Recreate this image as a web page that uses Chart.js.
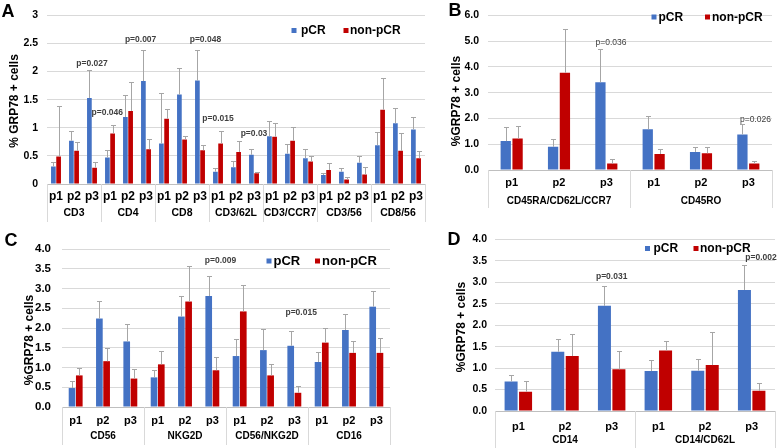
<!DOCTYPE html>
<html lang="en">
<head>
<meta charset="UTF-8">
<title>GRP78 + cells by group</title>
<script src="https://cdn.jsdelivr.net/npm/chart.js"></script>
<style>
  body { margin: 0; background: #fff; }
  #wrap { position: relative; width: 778px; height: 448px; overflow: hidden; }
  .panel { position: absolute; }
</style>
</head>
<body>
<div id="wrap">
  <div class="panel" style="left:0;top:0"><canvas id="chartA" width="430" height="225"></canvas></div>
  <div class="panel" style="left:430px;top:0"><canvas id="chartB" width="348" height="225"></canvas></div>
  <div class="panel" style="left:0;top:225px"><canvas id="chartC" width="400" height="223"></canvas></div>
  <div class="panel" style="left:430px;top:225px"><canvas id="chartD" width="348" height="223"></canvas></div>
</div>
<script>
  // time points inside each marker group
  const points = ['p1', 'p2', 'p3'];

  // Panel A
  const groupsA = ['CD3', 'CD4', 'CD8', 'CD3/62L', 'CD3/CCR7', 'CD3/56', 'CD8/56'];
  const pcrA = [0.31, 0.77, 1.53, 0.47, 1.19, 1.83, 0.72, 1.59, 1.84, 0.22, 0.30, 0.52, 0.85, 0.54, 0.46, 0.16, 0.22, 0.38, 0.69, 1.08, 0.97];
  const pcrSdA = [0.09, 0.17, 0.49, 0.13, 0.40, 0.56, 0.90, 0.47, 0.55, 0.06, 0.11, 0.11, 0.27, 0.18, 0.16, 0.04, 0.07, 0.12, 0.24, 0.27, 0.22];
  const nonA = [0.49, 0.59, 0.29, 0.90, 1.30, 0.62, 1.16, 0.79, 0.60, 0.72, 0.57, 0.19, 0.84, 0.77, 0.40, 0.25, 0.08, 0.17, 1.32, 0.59, 0.46];
  const nonSdA = [0.90, 0.15, 0.11, 0.15, 0.51, 0.18, 0.17, 0.06, 0.10, 0.23, 0.20, 0.03, 0.24, 0.24, 0.09, 0.13, 0.04, 0.14, 0.56, 0.31, 0.12];
  const pTextA = ['p=0.027', 'p=0.046', 'p=0.007', 'p=0.048', 'p=0.015', 'p=0.03'];
  const pAtA = [2, 2.85, 4.7, 8.3, 9, 11];
  const pValA = [2.14, 1.27, 2.57, 2.57, 1.17, 0.9];

  // Panel B
  const groupsB = ['CD45RA/CD62L/CCR7', 'CD45RO'];
  const pcrB = [1.12, 0.90, 3.40, 1.58, 0.70, 1.38];
  const pcrSdB = [0.53, 0.29, 1.30, 0.52, 0.20, 0.39];
  const nonB = [1.22, 3.77, 0.25, 0.62, 0.65, 0.25];
  const nonSdB = [0.48, 1.68, 0.17, 0.20, 0.23, 0.10];
  const pTextB = ['p=0.036', 'p=0.026'];
  const pAtB = [2.1, 5.15];
  const pValB = [4.95, 1.94];

  // Panel C
  const groupsC = ['CD56', 'NKG2D', 'CD56/NKG2D', 'CD16'];
  const pcrC = [0.48, 2.24, 1.66, 0.75, 2.29, 2.81, 1.29, 1.44, 1.55, 1.14, 1.95, 2.54];
  const pcrSdC = [0.17, 0.44, 0.45, 0.19, 0.52, 0.50, 0.42, 0.53, 0.37, 0.26, 0.40, 0.40];
  const nonC = [0.80, 1.16, 0.72, 1.08, 2.67, 0.93, 2.42, 0.80, 0.36, 1.63, 1.37, 1.37];
  const nonSdC = [0.20, 0.33, 0.25, 0.33, 0.90, 0.34, 0.66, 0.28, 0.17, 0.38, 0.31, 0.38];
  const pTextC = ['p=0.009', 'p=0.015'];
  const pAtC = [5.3, 8.25];
  const pValC = [3.71, 2.40];

  // Panel D
  const groupsD = ['CD14', 'CD14/CD62L'];
  const pcrD = [0.69, 1.38, 2.45, 0.93, 0.94, 2.82];
  const pcrSdD = [0.16, 0.29, 0.47, 0.25, 0.27, 0.57];
  const nonD = [0.45, 1.28, 0.97, 1.41, 1.07, 0.47];
  const nonSdD = [0.24, 0.51, 0.42, 0.21, 0.76, 0.19];
  const pTextD = ['p=0.031', 'p=0.002'];
  const pAtD = [2, 5.2];
  const pValD = [3.13, 3.58];

  const FONT = '"Liberation Sans", Arial, sans-serif';
  const BLUE = '#4472C4';
  const RED = '#C00000';
  Chart.defaults.font.family = FONT;

  function makePanel(id, cfg) {
    const labels = cfg.groups.flatMap(() => points);

    const decor = {
      id: 'decor',
      afterDatasetsDraw(chart) {
        // upper error bars
        const ctx = chart.ctx;
        const y = chart.scales.y;
        ctx.save();
        ctx.strokeStyle = '#a6a6a6';
        ctx.lineWidth = 1;
        chart.data.datasets.forEach((ds, d) => {
          chart.getDatasetMeta(d).data.forEach((bar, i) => {
            const top = Math.round(y.getPixelForValue(ds.data[i] + ds.sd[i])) + 0.5;
            const x = Math.round(bar.x) + 0.5;
            ctx.beginPath();
            ctx.moveTo(x, bar.y);
            ctx.lineTo(x, top);
            ctx.moveTo(x - 2.5, top);
            ctx.lineTo(x + 2.5, top);
            ctx.stroke();
          });
        });
        ctx.restore();
      },
      afterDraw(chart) {
        const ctx = chart.ctx;
        const x = chart.scales.x;
        const y = chart.scales.y;
        const bottom = chart.chartArea.bottom;
        ctx.save();

        // group separators and group names
        ctx.strokeStyle = '#d9d9d9';
        ctx.lineWidth = 1;
        for (let g = 0; g <= cfg.groups.length; g++) {
          const px = Math.round(x.getPixelForValue(g * points.length - 0.5)) + 0.5;
          ctx.beginPath();
          ctx.moveTo(px, bottom);
          ctx.lineTo(px, bottom + 38);
          ctx.stroke();
        }
        ctx.fillStyle = '#000';
        ctx.font = 'bold ' + cfg.groupFont + 'px ' + FONT;
        ctx.textAlign = 'center';
        ctx.textBaseline = 'middle';
        cfg.groups.forEach((name, g) => {
          ctx.fillText(name, x.getPixelForValue(g * points.length + 1), bottom + cfg.groupDy);
        });

        // y axis title
        ctx.save();
        ctx.translate(cfg.titleX, cfg.titleY);
        ctx.rotate(-Math.PI / 2);
        ctx.font = 'bold 12px ' + FONT;
        ctx.fillText(cfg.yTitle, 0, 0);
        ctx.restore();

        // panel letter
        ctx.font = 'bold 18px ' + FONT;
        ctx.fillText(cfg.letter, cfg.letterX, cfg.letterY);

        // legend
        ctx.font = 'bold ' + cfg.legendFont + 'px ' + FONT;
        ctx.textAlign = 'left';
        chart.data.datasets.forEach((ds, d) => {
          const [bx, tx] = cfg.legendAt[d];
          ctx.fillStyle = ds.backgroundColor;
          ctx.fillRect(bx, cfg.legendY - 2.5, 5, 5);
          ctx.fillStyle = '#000';
          ctx.fillText(ds.label, tx, cfg.legendY + 0.5);
        });

        // p values
        ctx.fillStyle = '#404040';
        ctx.font = cfg.pWeight + ' 8.5px ' + FONT;
        ctx.textAlign = 'center';
        cfg.pText.forEach((t, k) => {
          ctx.fillText(t, x.getPixelForValue(cfg.pAt[k]), y.getPixelForValue(cfg.pVal[k]));
        });
        ctx.restore();
      }
    };

    return new Chart(document.getElementById(id), {
      type: 'bar',
      data: {
        labels: labels,
        datasets: [
          { label: 'pCR', data: cfg.pcr, sd: cfg.pcrSd, backgroundColor: BLUE, borderWidth: 0,
            categoryPercentage: cfg.catPct, barPercentage: cfg.barPct },
          { label: 'non-pCR', data: cfg.non, sd: cfg.nonSd, backgroundColor: RED, borderWidth: 0,
            categoryPercentage: cfg.catPct, barPercentage: cfg.barPct }
        ]
      },
      options: {
        responsive: false,
        animation: false,
        layout: { padding: cfg.padding },
        plugins: { legend: { display: false }, tooltip: { enabled: false } },
        scales: {
          x: {
            offset: true,
            grid: { display: false, drawTicks: false },
            border: { display: true, color: '#bfbfbf', width: 1 },
            ticks: { color: '#000', font: { size: cfg.xFont, weight: 'bold' }, padding: cfg.xPad,
                     maxRotation: 0, autoSkip: false },
            afterFit: s => { s.height = cfg.xHeight; }
          },
          y: {
            min: 0,
            max: cfg.yMax,
            grid: { color: '#d9d9d9', drawTicks: false },
            border: { display: false },
            ticks: {
              stepSize: cfg.step,
              padding: cfg.yPad,
              color: '#000',
              font: { size: cfg.yFont, weight: 'bold' },
              callback: v => cfg.decimals ? v.toFixed(cfg.decimals) : String(v)
            },
            afterFit: s => { s.width = cfg.yWidth; }
          }
        }
      },
      plugins: [decor]
    });
  }

  makePanel('chartA', {
    groups: groupsA, pcr: pcrA, pcrSd: pcrSdA, non: nonA, nonSd: nonSdA,
    pText: pTextA, pAt: pAtA, pVal: pValA, pWeight: 'bold',
    yMax: 3, step: 0.5, decimals: 0, yFont: 10.5, yPad: 9, yWidth: 47,
    xFont: 12, xPad: 5, xHeight: 41, groupFont: 10.5, groupDy: 29,
    padding: { left: 0, right: 5, top: 14, bottom: 0 },
    catPct: 0.58, barPct: 0.9,
    yTitle: '% GRP78 + cells', titleX: 15, titleY: 101,
    letter: 'A', letterX: 8, letterY: 12,
    legendFont: 12, legendY: 30.5, legendAt: [[291.5, 301], [343.5, 350]]
  });

  makePanel('chartB', {
    groups: groupsB, pcr: pcrB, pcrSd: pcrSdB, non: nonB, nonSd: nonSdB,
    pText: pTextB, pAt: pAtB, pVal: pValB, pWeight: 'normal',
    yMax: 6, step: 1, decimals: 1, yFont: 10.5, yPad: 9, yWidth: 58,
    xFont: 11, xPad: 6, xHeight: 55, groupFont: 10, groupDy: 31,
    padding: { left: 0, right: 6, top: 5, bottom: 0 },
    catPct: 0.5, barPct: 0.87,
    yTitle: '%GRP78 + cells', titleX: 27, titleY: 101,
    letter: 'B', letterX: 25, letterY: 11,
    legendFont: 12, legendY: 17, legendAt: [[221.5, 228.5], [275, 282]]
  });

  makePanel('chartC', {
    groups: groupsC, pcr: pcrC, pcrSd: pcrSdC, non: nonC, nonSd: nonSdC,
    pText: pTextC, pAt: pAtC, pVal: pValC, pWeight: 'bold',
    yMax: 4, step: 0.5, decimals: 1, yFont: 11.5, yPad: 11, yWidth: 62,
    xFont: 11, xPad: 7, xHeight: 41, groupFont: 10, groupDy: 29,
    padding: { left: 0, right: 10, top: 24, bottom: 0 },
    catPct: 0.53, barPct: 0.92,
    yTitle: '%GRP78 + cells', titleX: 30, titleY: 115,
    letter: 'C', letterX: 11, letterY: 16,
    legendFont: 13, legendY: 36, legendAt: [[266.5, 273.5], [315, 322]]
  });

  makePanel('chartD', {
    groups: groupsD, pcr: pcrD, pcrSd: pcrSdD, non: nonD, nonSd: nonSdD,
    pText: pTextD, pAt: pAtD, pVal: pValD, pWeight: 'bold',
    yMax: 4, step: 0.5, decimals: 1, yFont: 10.5, yPad: 8, yWidth: 65,
    xFont: 11, xPad: 9, xHeight: 37, groupFont: 10, groupDy: 29,
    padding: { left: 0, right: 3, top: 14, bottom: 0 },
    catPct: 0.62, barPct: 0.9,
    yTitle: '%GRP78 + cells', titleX: 32, titleY: 102,
    letter: 'D', letterX: 24, letterY: 15,
    legendFont: 12, legendY: 23.5, legendAt: [[215, 223.5], [263.5, 270]]
  });
</script>
</body>
</html>
